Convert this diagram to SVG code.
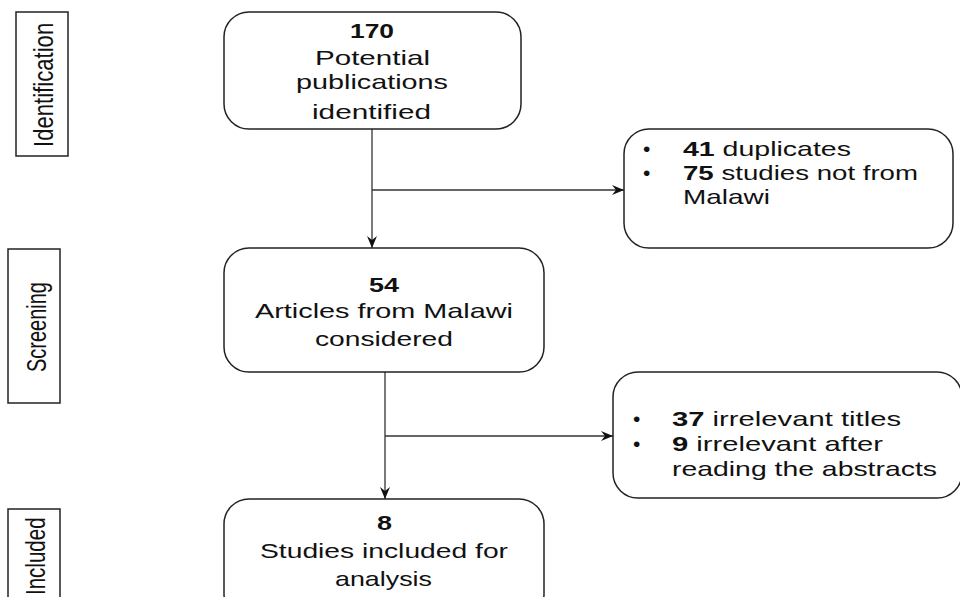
<svg xmlns="http://www.w3.org/2000/svg" width="960" height="597" viewBox="0 0 960 597">
<style>
.box{fill:#fff;stroke:#222;stroke-width:1.5}
.side{fill:#fff;stroke:#222;stroke-width:1.5}
.t{font-family:"Liberation Sans",Arial,sans-serif;font-size:21px;fill:#111}
.b{font-weight:bold}
.s{font-family:"Liberation Sans",Arial,sans-serif;font-size:27px;fill:#111}
.c{fill:none;stroke:#333;stroke-width:1.3}
</style>
<defs>
<marker id="ah" viewBox="0 0 12 10" refX="12" refY="5" markerWidth="12" markerHeight="10" markerUnits="userSpaceOnUse" orient="auto">
<path d="M0,0 L12,5 L0,10 L4,5 z" fill="#111"/>
</marker>
</defs>
<g id="side-identification">
<rect class="side" x="16" y="12" width="52" height="144"/>
<text class="s" transform="translate(53,147) rotate(-90) scale(0.82,1)">Identification</text>
</g>
<g id="side-screening">
<rect class="side" x="8" y="249" width="52" height="154"/>
<text class="s" transform="translate(46,372) rotate(-90) scale(0.74,1)">Screening</text>
</g>
<g id="side-included">
<rect class="side" x="8" y="509" width="52" height="100"/>
<text class="s" transform="translate(45,595) rotate(-90) scale(0.76,1)">Included</text>
</g>
<g id="connectors">
<path class="c" d="M372,129 V248" marker-end="url(#ah)"/>
<path class="c" d="M372,190 H624" marker-end="url(#ah)"/>
<path class="c" d="M385,372 V499" marker-end="url(#ah)"/>
<path class="c" d="M385,436 H613" marker-end="url(#ah)"/>
</g>
<g id="node-identified">
<rect class="box" x="224" y="12" width="297" height="117" rx="25" ry="25"/>
<text class="t b" x="350" y="38" textLength="44" lengthAdjust="spacingAndGlyphs">170</text>
<text class="t" x="315" y="65" textLength="115" lengthAdjust="spacingAndGlyphs">Potential</text>
<text class="t" x="296" y="89" textLength="152" lengthAdjust="spacingAndGlyphs">publications</text>
<text class="t" x="312" y="119" textLength="119" lengthAdjust="spacingAndGlyphs">identified</text>
</g>
<g id="node-excluded1">
<rect class="box" x="624" y="129" width="329" height="119" rx="25" ry="25"/>
<text class="t" x="643" y="156">•</text>
<text class="t" x="643" y="180">•</text>
<text class="t" x="683" y="156" textLength="168" lengthAdjust="spacingAndGlyphs"><tspan class="b">41</tspan> duplicates</text>
<text class="t" x="683" y="180" textLength="235" lengthAdjust="spacingAndGlyphs"><tspan class="b">75</tspan> studies not from</text>
<text class="t" x="683" y="204" textLength="87" lengthAdjust="spacingAndGlyphs">Malawi</text>
</g>
<g id="node-screened">
<rect class="box" x="224" y="248" width="320" height="124" rx="25" ry="25"/>
<text class="t b" x="369" y="292" textLength="30" lengthAdjust="spacingAndGlyphs">54</text>
<text class="t" x="255" y="318" textLength="258" lengthAdjust="spacingAndGlyphs">Articles from Malawi</text>
<text class="t" x="315" y="346" textLength="138" lengthAdjust="spacingAndGlyphs">considered</text>
</g>
<g id="node-excluded2">
<rect class="box" x="613" y="372" width="349" height="126" rx="25" ry="25"/>
<text class="t" x="633" y="426">•</text>
<text class="t" x="633" y="451">•</text>
<text class="t" x="672" y="426" textLength="229" lengthAdjust="spacingAndGlyphs"><tspan class="b">37</tspan> irrelevant titles</text>
<text class="t" x="672" y="451" textLength="211" lengthAdjust="spacingAndGlyphs"><tspan class="b">9</tspan> irrelevant after</text>
<text class="t" x="672" y="476" textLength="265" lengthAdjust="spacingAndGlyphs">reading the abstracts</text>
</g>
<g id="node-included">
<rect class="box" x="224" y="499" width="320" height="120" rx="25" ry="25"/>
<text class="t b" x="377" y="530" textLength="15" lengthAdjust="spacingAndGlyphs">8</text>
<text class="t" x="260" y="558" textLength="248" lengthAdjust="spacingAndGlyphs">Studies included for</text>
<text class="t" x="335" y="586" textLength="97" lengthAdjust="spacingAndGlyphs">analysis</text>
</g>
</svg>
